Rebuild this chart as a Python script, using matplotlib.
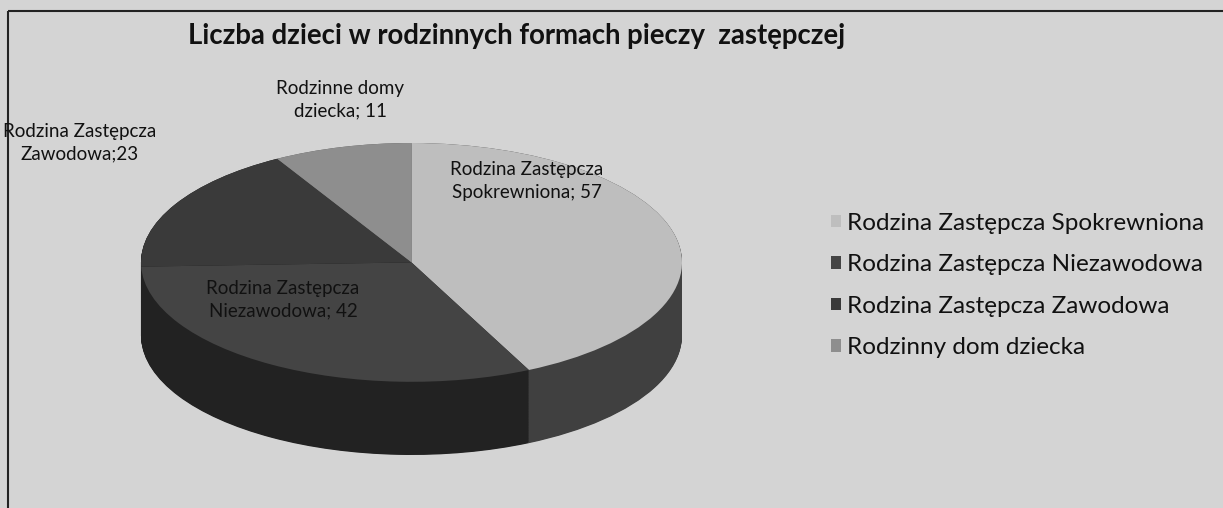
import matplotlib
matplotlib.use('Agg')
import matplotlib.pyplot as plt
import numpy as np
from matplotlib.patches import Rectangle

plt.rcParams['font.family'] = ['Lato', 'DejaVu Sans']

# Dane
categories = ['Rodzina Zastępcza Spokrewniona', 'Rodzina Zastępcza Niezawodowa',
              'Rodzina Zastępcza Zawodowa', 'Rodzinny dom dziecka']
values = [57, 42, 23, 11]
slice_labels = ['Rodzina Zastępcza\nSpokrewniona; 57', 'Rodzina Zastępcza\nNiezawodowa; 42',
                'Rodzina Zastępcza\nZawodowa;23', 'Rodzinne domy\ndziecka; 11']
title = 'Liczba dzieci w rodzinnych formach pieczy  zastępczej'

top_colors = ['#bebebe', '#444444', '#3a3a3a', '#8e8e8e']
side_colors = ['#404040', '#222222', '#1c1c1c', '#5a5a5a']
bg = '#d4d4d4'

W, H = 1223, 508
fig = plt.figure(figsize=(W / 100, H / 100), dpi=100, facecolor=bg)

# ramka
base = fig.add_axes([0, 0, 1, 1])
base.set_xlim(0, W)
base.set_ylim(H, 0)
base.axis('off')
base.add_patch(Rectangle((8, 11), W + 20, H + 20, fill=False, edgecolor='#222222', linewidth=1.5))

# 3D pie: top face ellipse, side depth drawn by stacking layers
left, right, top, bottom = 141, 682, 143, 455
depth = 0.613  # grubosc w jednostkach promienia (pionowo)
pax = fig.add_axes([left / W, 1 - bottom / H, (right - left) / W, (bottom - top) / H])
pax.patch.set_visible(False)

for d in np.linspace(depth, 0.0, 120):
    pax.pie(values, colors=side_colors, startangle=90, counterclock=False,
            center=(0, -d), radius=1, wedgeprops=dict(linewidth=0))
wedges, _ = pax.pie(values, colors=top_colors, startangle=90, counterclock=False,
                    center=(0, 0), radius=1, wedgeprops=dict(linewidth=0))
pax.set_aspect('auto')
pax.set_xlim(-1, 1)
pax.set_ylim(-1 - depth, 1)
pax.axis('off')

# teksty na wierzchu
over = fig.add_axes([0, 0, 1, 1])
over.set_xlim(0, W)
over.set_ylim(H, 0)
over.axis('off')

label_pos = [(527, 181), (283, 300), (80, 143), (340, 100)]
for txt, (x, y) in zip(slice_labels, label_pos):
    over.text(x, y, txt, ha='center', va='center', fontsize=13.5, color='#111111',
              linespacing=1.4)

over.text(517, 36, title, ha='center', va='center', fontsize=19.8, fontweight='bold', color='#111111')

fig.legend(wedges, categories, loc='upper left', bbox_to_anchor=(821 / W, 1 - 203 / H),
           frameon=False, fontsize=17.5, handlelength=0.42, handleheight=0.42,
           handletextpad=0.25, labelspacing=0.84, borderaxespad=0, labelcolor='#111111')

fig.savefig('out.png', dpi=100, facecolor=bg)
